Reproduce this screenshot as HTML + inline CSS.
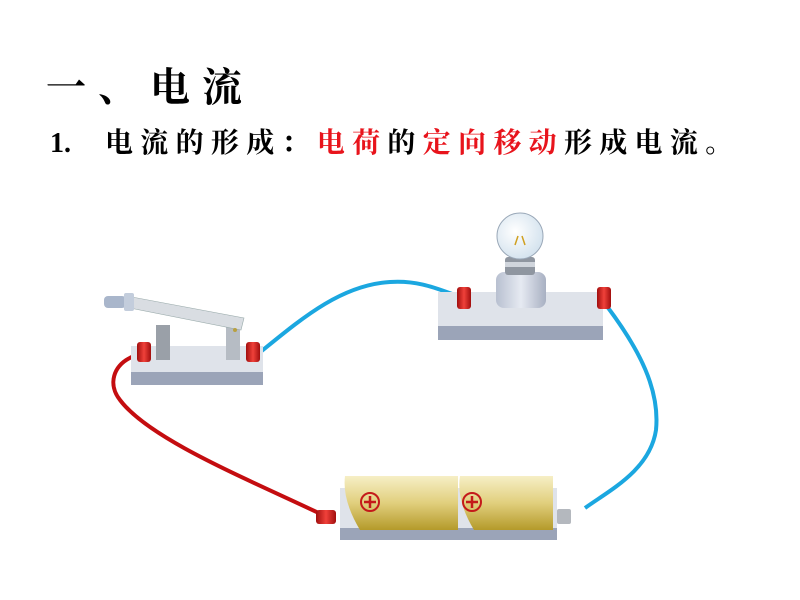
<!DOCTYPE html>
<html><head><meta charset="utf-8"><style>
body{margin:0;width:800px;height:600px;background:#fff;overflow:hidden;position:relative;font-family:"Liberation Serif","Noto Serif CJK SC","Noto Sans CJK SC",serif;}
.t1{position:absolute;left:46px;top:56px;font-size:40px;font-weight:bold;letter-spacing:12px;color:#000;white-space:nowrap;}
.t2{position:absolute;left:50px;top:124px;font-size:28px;font-weight:bold;color:#000;white-space:nowrap;line-height:40px;}
.t2 .n{display:inline-block;width:55px;}
.t2 .c{letter-spacing:7.3px;}
.r{color:#e8141c}
</style></head><body>
<div class="t1">一、电流</div>
<div class="t2"><span class="n">1.</span><span class="c">电流的形成：<span class="r">电荷</span>的<span class="r">定向移动</span>形成电流。</span></div>
<svg width="800" height="600" style="position:absolute;left:0;top:0">
<defs>
<linearGradient id="bat" x1="0" y1="0" x2="0" y2="1"><stop offset="0" stop-color="#f6efc6"/><stop offset="0.5" stop-color="#e1cf7d"/><stop offset="1" stop-color="#b49a2a"/></linearGradient>
<linearGradient id="term" x1="0" y1="0" x2="1" y2="0"><stop offset="0" stop-color="#a10e0e"/><stop offset="0.5" stop-color="#f0413a"/><stop offset="1" stop-color="#a10e0e"/></linearGradient>
<linearGradient id="cyl" x1="0" y1="0" x2="1" y2="0"><stop offset="0" stop-color="#b8c0d0"/><stop offset="0.5" stop-color="#e6eaf2"/><stop offset="1" stop-color="#a8b0c2"/></linearGradient>
<radialGradient id="bulb" cx="0.4" cy="0.4" r="0.6"><stop offset="0" stop-color="#ffffff"/><stop offset="1" stop-color="#d6e4ef"/></radialGradient>
</defs>
<path d="M258,354 C300,320 340,285 390,282 C420,280 440,290 458,296" stroke="#1ba7e0" stroke-width="4" fill="none"/>
<path d="M606,305 C640,350 660,390 656,430 C650,470 610,490 585,508" stroke="#1ba7e0" stroke-width="4" fill="none"/>
<path d="M134,356 C112,365 108,385 120,400 C150,440 250,480 325,516" stroke="#c40d10" stroke-width="4" fill="none"/>
<rect x="131" y="346" width="132" height="26" fill="#dfe3ea"/>
<rect x="131" y="372" width="132" height="13" fill="#9ba4b8"/>
<rect x="156" y="325" width="14" height="35" fill="#9aa0a8"/>
<rect x="226" y="325" width="14" height="35" fill="#b6bcc4"/>
<polygon points="132,297 244,318 241,330 130,308" fill="#d9dde2" stroke="#9aa" stroke-width="0.6"/>
<rect x="104" y="296" width="22" height="12" rx="4" fill="#a9b6cb"/>
<rect x="124" y="293" width="10" height="18" rx="2" fill="#c3cddc"/>
<circle cx="235" cy="330" r="2" fill="#b8a040"/>
<rect x="137" y="342" width="14" height="20" rx="3" fill="url(#term)"/>
<rect x="246" y="342" width="14" height="20" rx="3" fill="url(#term)"/>
<rect x="438" y="292" width="165" height="34" fill="#dfe3ea"/>
<rect x="438" y="326" width="165" height="14" fill="#9ba4b8"/>
<rect x="496" y="272" width="50" height="36" rx="8" fill="url(#cyl)"/>
<rect x="505" y="257" width="30" height="18" rx="3" fill="#8f96a0"/>
<rect x="505" y="262" width="30" height="5" fill="#d0d5dc"/>
<circle cx="520" cy="236" r="23" fill="url(#bulb)" stroke="#9aa8b8"/>
<path d="M515,245 L518,236 M525,245 L522,236" stroke="#d0a020" stroke-width="1.5"/>
<rect x="457" y="287" width="14" height="22" rx="3" fill="url(#term)"/>
<rect x="597" y="287" width="14" height="22" rx="3" fill="url(#term)"/>
<rect x="340" y="488" width="217" height="40" fill="#dfe3ea"/>
<rect x="340" y="528" width="217" height="12" fill="#9ba4b8"/>
<path d="M345,476 L458,476 L458,530 L360,530 Q342,500 345,476 Z" fill="url(#bat)"/>
<path d="M460,476 L553,476 L553,530 L474,530 Q456,500 460,476 Z" fill="url(#bat)"/>
<circle cx="370" cy="502" r="9" fill="none" stroke="#c41a1a" stroke-width="2"/>
<path d="M364,502 H376 M370,496 V508" stroke="#c41a1a" stroke-width="2.5"/>
<circle cx="472" cy="502" r="9" fill="none" stroke="#c41a1a" stroke-width="2"/>
<path d="M466,502 H478 M472,496 V508" stroke="#c41a1a" stroke-width="2.5"/>
<rect x="316" y="510" width="20" height="14" rx="3" fill="url(#term)"/>
<rect x="557" y="509" width="14" height="15" rx="2" fill="#b4b8be"/>
</svg>
</body></html>
